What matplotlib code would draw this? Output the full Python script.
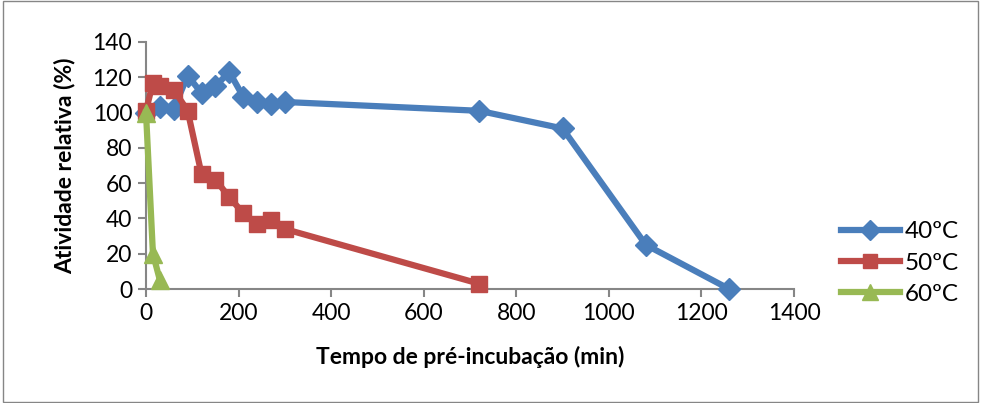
import matplotlib
matplotlib.use("Agg")
from matplotlib import pyplot as plt

# tempo de pré-incubação (min) e atividade relativa (%)
tempo_40 = [0, 30, 60, 90, 120, 150, 180, 210, 240, 270, 300, 720, 900, 1080, 1260]
ativ_40 = [100, 103, 102, 121, 111, 115, 123, 109, 106, 105, 106, 101, 91, 25, 0]

tempo_50 = [0, 15, 30, 60, 90, 120, 150, 180, 210, 240, 270, 300, 720]
ativ_50 = [101, 117, 115, 113, 101, 65, 62, 52, 43, 37, 39, 34, 3]

tempo_60 = [0, 15, 30]
ativ_60 = [100, 20, 5]

plt.rcParams['font.family'] = ['Lato', 'DejaVu Sans']

fig = plt.figure(figsize=(9.81, 4.03), dpi=100)
ax = fig.add_axes([146 / 981, 1 - 289 / 403, 648 / 981, 247 / 403])

ax.plot(tempo_40, ativ_40, color='#4a7ebb', lw=4.5, marker='D', ms=11,
        label='40ºC', solid_joinstyle='round', zorder=3, clip_on=False)
ax.plot(tempo_50, ativ_50, color='#be4b48', lw=4.5, marker='s', ms=11,
        label='50ºC', solid_joinstyle='round', zorder=3, clip_on=False)
ax.plot(tempo_60, ativ_60, color='#98b954', lw=4.5, marker='^', ms=13,
        label='60ºC', solid_joinstyle='round', zorder=4, clip_on=False)

ax.set_xlim(0, 1400)
ax.set_ylim(0, 140)
ax.set_xticks(range(0, 1401, 200))
ax.set_yticks(range(0, 141, 20))
ax.spines['top'].set_visible(False)
ax.spines['right'].set_visible(False)
for s in ('left', 'bottom'):
    ax.spines[s].set_color('#868686')
    ax.spines[s].set_linewidth(1.5)
    ax.spines[s].set_zorder(1)
ax.tick_params(axis='both', direction='out', length=6, width=1.5, color='#868686',
               labelsize=16.5, pad=4)
ax.set_xlabel('Tempo de pré-incubação (min)', fontsize=16.5, fontweight='bold', labelpad=16)
ax.set_ylabel('Atividade relativa (%)', fontsize=16.5, fontweight='bold', labelpad=12)

leg = ax.legend(loc='center left', bbox_to_anchor=(1.058, 0.105), frameon=False,
                fontsize=17.5, handlelength=2.4, handletextpad=0.2, labelspacing=0.42,
                borderaxespad=0, markerscale=0.9)

# moldura da área do gráfico
fig.patches.append(plt.Rectangle((0.003, 0.003), 0.994, 0.994, transform=fig.transFigure,
                                 fill=False, edgecolor='#868686', lw=1))

fig.savefig('out.png', dpi=100)
